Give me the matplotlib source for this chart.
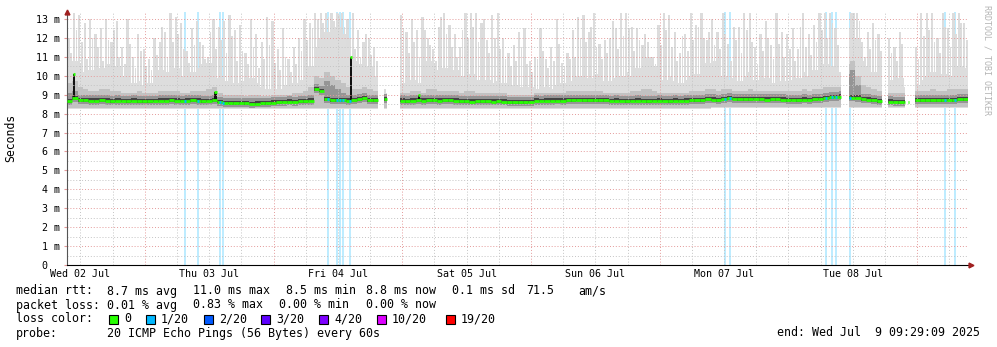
import numpy as np
import matplotlib
matplotlib.use('Agg')
import matplotlib.pyplot as plt
from matplotlib.patches import Rectangle
from datetime import datetime, timedelta

plt.rcParams['font.family'] = ['DejaVu Sans Mono']

W, H = 997, 347

end = datetime(2025, 7, 9, 9, 29, 9)
start = end - timedelta(days=7)
span = 168.0

nan = np.nan

# hourly median rtt (ms), hour 0 = start of graph
med = [
    8.65, 8.80, 8.72, 8.70, 8.68, 8.68, 8.70, 8.68, 8.66, 8.68, 8.67, 8.66, 8.68, 8.66, 8.65, 8.66, 8.67, 8.68, 8.68, 8.70, 8.68, 8.67, 8.68, 8.70,
    8.68, 8.66, 8.67, 8.72, 8.62, 8.57, 8.55, 8.56, 8.55, 8.54, 8.52, 8.53, 8.55, 8.56, 8.58, 8.60, 8.62, 8.63, 8.62, 8.65, 8.66, 8.68, 9.30, 9.20,
    8.75, 8.72, 8.70, 8.70, 8.68, 8.72, 8.75, 8.82, 8.72, 8.70, nan, 8.75, nan, nan, 8.68, 8.66, 8.68, 8.70, 8.68, 8.70, 8.70, 8.68, 8.70, 8.70,
    8.68, 8.65, 8.65, 8.64, 8.65, 8.66, 8.65, 8.64, 8.65, 8.64, 8.60, 8.60, 8.59, 8.60, 8.62, 8.68, 8.67, 8.68, 8.68, 8.69, 8.68, 8.72, 8.72, 8.73,
    8.72, 8.70, 8.72, 8.71, 8.70, 8.67, 8.68, 8.67, 8.66, 8.67, 8.68, 8.67, 8.66, 8.67, 8.68, 8.67, 8.66, 8.68, 8.67, 8.68, 8.72, 8.71, 8.72, 8.75,
    8.74, 8.72, 8.78, 8.80, 8.78, 8.76, 8.75, 8.76, 8.78, 8.75, 8.74, 8.75, 8.76, 8.74, 8.72, 8.73, 8.72, 8.74, 8.73, 8.75, 8.78, 8.80, 8.86, 8.88,
    8.90, 8.86, 8.85, 8.84, 8.76, 8.74, 8.72, 8.66, nan, 8.63, 8.62, 8.61, 8.62, nan, 8.70, 8.71, 8.72, 8.72, 8.71, 8.72, 8.73, 8.72, 8.75, 8.76,
]

# tallest ping of each hour
spike = [
    12.0, 13.3, 13.2, 12.8, 13.0, 12.2, 12.5, 13.0, 11.8, 12.9, 11.5, 13.0, 11.0, 12.2, 11.4, 10.9, 12.0, 11.8, 12.3, 13.3, 13.1, 12.8, 11.3, 12.5,
    12.9, 11.6, 11.0, 13.0, 12.6, 12.9, 13.2, 12.4, 12.7, 11.2, 13.0, 12.2, 11.8, 13.1, 12.9, 11.4, 12.5, 10.9, 11.5, 12.0, 13.0, 12.8, 13.3, 13.3,
    13.3, 13.3, 13.3, 13.3, 13.0, 13.3, 12.4, 11.8, 12.0, 11.5, nan, 9.3, nan, nan, 13.2, 12.3, 13.0, 12.4, 13.1, 12.0, 11.4, 12.6, 13.3, 12.7,
    12.2, 11.5, 13.3, 13.3, 13.3, 12.8, 11.9, 13.2, 13.3, 12.0, 11.2, 11.6, 12.3, 12.5, 10.8, 11.0, 12.5, 10.9, 11.5, 13.0, 10.7, 11.2, 12.4, 13.1,
    13.2, 12.3, 13.3, 11.7, 11.9, 12.0, 12.5, 13.3, 13.3, 12.6, 12.5, 11.6, 11.8, 11.0, 12.7, 13.3, 13.2, 12.3, 11.2, 12.2, 13.3, 12.7, 13.3, 11.9,
    13.0, 12.3, 13.3, 11.7, 12.6, 12.6, 13.3, 13.3, 11.5, 12.2, 12.9, 11.6, 13.3, 12.3, 12.2, 12.5, 11.4, 13.3, 12.2, 12.7, 13.3, 13.3, 13.3, 12.5,
    13.3, 13.3, 13.3, 13.3, 11.8, 12.3, 12.8, 12.2, nan, 12.0, 11.5, 12.3, 11.0, nan, 11.5, 13.3, 13.3, 13.3, 12.0, 13.3, 12.5, 13.3, 13.3, 12.8,
]

# second highest burst inside the hour
spike2 = [
    11.2, 12.4, 11.8, 10.9, 12.0, 11.5, 10.8, 11.9, 12.4, 11.0, 10.6, 11.7, 10.4, 11.3, 10.5, 10.3, 11.1, 12.6, 11.0, 11.8, 12.2, 11.4, 10.7, 11.6,
    11.8, 10.9, 12.3, 11.4, 11.9, 11.2, 12.1, 10.8, 11.3, 10.6, 11.5, 10.4, 10.9, 11.6, 10.7, 10.3, 11.0, 10.2, 10.6, 11.3, 11.9, 12.5, 13.0, 12.8,
    13.1, 12.9, 13.2, 12.6, 12.0, 11.4, 11.0, 12.2, 11.1, 10.8, nan, nan, nan, nan, 12.5, 11.2, 11.8, 11.0, 12.4, 11.6, 10.8, 13.1, 12.2, 11.5,
    11.0, 12.4, 12.0, 12.6, 11.8, 13.0, 11.2, 12.0, 11.4, 10.9, 10.5, 10.8, 11.5, 10.6, 10.2, 10.9, 11.3, 10.4, 10.8, 11.7, 10.5, 10.9, 11.0, 12.0,
    11.8, 12.6, 11.5, 10.9, 11.2, 12.9, 11.4, 12.1, 12.5, 11.3, 11.9, 12.2, 11.0, 10.6, 11.6, 12.4, 11.5, 10.8, 12.1, 11.3, 11.9, 12.6, 12.0, 12.3,
    11.6, 11.4, 12.2, 10.8, 11.9, 11.2, 12.4, 11.8, 10.6, 11.3, 12.0, 10.9, 11.7, 11.0, 11.4, 10.8, 12.6, 11.5, 11.1, 11.8, 12.4, 12.0, 12.8, 11.6,
    12.2, nan, 13.3, 12.9, 11.0, 11.4, 11.9, 11.3, nan, 11.2, 10.8, 11.7, nan, nan, 10.9, 12.1, 12.4, 11.8, 11.2, 12.6, 11.5, 12.2, 12.8, 11.9,
]

# upper edge of the bulk of the pings
smoke_top = [
    10.5, 10.8, 10.6, 10.2, 10.3, 10.0, 10.4, 10.6, 10.8, 10.5, 10.0, 9.8, 9.6, 9.7, 9.5, 9.6, 9.8, 10.3, 10.2, 10.5, 10.4, 10.0, 9.8, 10.2,
    10.4, 10.6, 10.7, 10.2, 9.9, 9.7, 9.8, 9.6, 9.7, 9.5, 9.9, 9.6, 9.4, 9.3, 9.4, 9.3, 9.5, 9.4, 9.6, 9.8, 10.0, 10.5, 11.5, 12.0,
    12.3, 12.5, 12.6, 12.2, 11.5, 10.8, 10.6, 10.4, 10.5, 10.0, nan, 9.1, nan, nan, 9.6, 9.5, 9.8, 9.6, 9.7, 10.8, 10.6, 10.3, 10.4, 10.2,
    10.3, 10.0, 9.9, 10.1, 9.8, 9.7, 9.8, 9.6, 9.7, 9.6, 9.4, 9.5, 9.4, 9.3, 9.4, 9.3, 9.5, 9.4, 9.3, 9.5, 9.6, 9.8, 9.7, 10.0,
    9.8, 9.9, 10.1, 9.8, 9.7, 9.7, 9.9, 10.0, 10.2, 10.0, 10.4, 10.9, 11.0, 10.5, 9.9, 9.8, 10.0, 9.7, 9.6, 9.8, 10.0, 10.1, 10.5, 10.7,
    10.8, 10.3, 10.0, 9.8, 9.9, 9.7, 10.0, 10.2, 9.8, 9.7, 9.9, 9.6, 9.8, 9.7, 9.7, 9.8, 9.9, 10.2, 10.0, 10.3, 10.4, 10.6, 10.5, 10.4,
    10.2, 12.5, 12.8, 12.0, 10.8, 10.5, 10.2, 10.0, nan, 9.8, 9.6, 9.9, 9.4, nan, 9.5, 9.8, 10.0, 10.2, 9.9, 10.1, 10.0, 10.3, 10.5, 10.4,
]

# upper edge of the dense grey part
dark_top = [
    9.6, 9.7, 9.4, 9.3, 9.2, 9.2, 9.3, 9.3, 9.2, 9.2, 9.1, 9.1, 9.1, 9.2, 9.1, 9.1, 9.1, 9.2, 9.2, 9.2, 9.2, 9.1, 9.1, 9.2,
    9.2, 9.2, 9.3, 9.4, 9.1, 9.0, 9.0, 9.0, 9.0, 8.95, 9.0, 9.0, 8.95, 8.95, 9.0, 9.0, 9.0, 9.0, 9.1, 9.1, 9.2, 9.4, 10.0, 9.9,
    10.2, 10.0, 9.8, 9.6, 9.4, 9.3, 9.3, 9.4, 9.3, 9.2, nan, 9.0, nan, nan, 9.1, 9.1, 9.2, 9.2, 9.1, 9.3, 9.3, 9.2, 9.2, 9.2,
    9.2, 9.1, 9.2, 9.2, 9.1, 9.1, 9.1, 9.1, 9.1, 9.1, 9.0, 9.0, 9.0, 9.0, 9.0, 9.1, 9.1, 9.1, 9.1, 9.1, 9.1, 9.2, 9.2, 9.2,
    9.2, 9.2, 9.2, 9.2, 9.1, 9.1, 9.1, 9.1, 9.1, 9.2, 9.2, 9.3, 9.3, 9.2, 9.1, 9.1, 9.1, 9.1, 9.1, 9.1, 9.2, 9.2, 9.2, 9.3,
    9.3, 9.2, 9.3, 9.3, 9.2, 9.2, 9.2, 9.3, 9.2, 9.2, 9.2, 9.2, 9.2, 9.2, 9.2, 9.2, 9.2, 9.3, 9.2, 9.3, 9.3, 9.4, 9.4, 9.4,
    9.4, 10.6, 10.8, 10.0, 9.5, 9.4, 9.3, 9.2, nan, 9.1, 9.1, 9.1, 9.1, nan, 9.2, 9.2, 9.2, 9.3, 9.2, 9.2, 9.3, 9.3, 9.3, 9.3,
]

# fastest ping, one value per 24h block
low_by_day = [8.30, 8.30, 8.30, 8.30, 8.32, 8.35, 8.35]

# short median excursions (hour, ms)
peak_t = [1.3, 27.7, 52.95, 65.6]
peak_v = [10.1, 9.15, 11.0, 9.0]

# stretches with data (hours)
segments = [(0.0, 57.9), (59.05, 59.6), (62.1, 144.3), (145.9, 152.0),
            (153.1, 156.3), (156.9, 157.3), (158.2, 168.0)]

# packet loss events (hour, lost pings out of 20)
loss_t = [22.0, 24.43, 28.53, 29.09, 48.67, 50.34, 50.9, 51.46, 52.77,
          122.69, 123.63, 141.53, 142.64, 143.39, 146.0, 163.71, 165.58]
loss_n = [1] * len(loss_t)

loss_steps = [0, 1, 2, 3, 4, 10, 19]
loss_labels = ['0', '1/20', '2/20', '3/20', '4/20', '10/20', '19/20']
loss_colors = ['#26ff00', '#00b8ff', '#0059ff', '#5e00ff', '#7e00ff', '#dd00ff', '#ff0000']

med = np.array(med)
spike = np.array(spike)
spike2 = np.array(spike2)
smoke_top = np.array(smoke_top)
dark_top = np.array(dark_top)
low = np.repeat(low_by_day, 24)


def inside(t):
    return any(s <= t < e for s, e in segments)


def steps(vals, s, e):
    cuts = [s] + [float(k) for k in range(int(s) + 1, int(np.ceil(e)))] + [e]
    ys = [vals[int(c)] for c in cuts[:-1]]
    return np.array(cuts), np.array(ys + ys[-1:])


def loss_color(n):
    idx = max(i for i, v in enumerate(loss_steps) if v <= n)
    return loss_colors[idx]


fig = plt.figure(figsize=(W / 100, H / 100), dpi=100)
ax = fig.add_axes([67 / W, (H - 265) / H, 901 / W, (265 - 12) / H])
ytop = 13.37
ax.set_xlim(0, span)
ax.set_ylim(0, ytop)

# loss bars behind everything
for t, n in zip(loss_t, loss_n):
    ax.vlines(t, 0, ytop, color=loss_color(n), alpha=0.33, lw=1.1, zorder=0.8)

# smoke
for hr in range(168):
    for t, arr, w in ((hr + 0.3, spike, 0.42), (hr + 0.75, spike2, 0.32)):
        if inside(t) and not np.isnan(arr[hr]):
            ax.bar(t, arr[hr] - low[hr], bottom=low[hr], width=w,
                   color='#dcdcdc', lw=0, zorder=1)

for s, e in segments:
    x, top = steps(smoke_top, s, e)
    _, dk = steps(dark_top, s, e)
    _, md = steps(med, s, e)
    _, lo = steps(low, s, e)
    ax.fill_between(x, lo - 0.05, top, step='post', color='#dddddd', lw=0, zorder=1)
    ax.fill_between(x, lo, dk, step='post', color='#c2c2c2', lw=0, zorder=1.1)
    ax.fill_between(x, md - 0.2, np.maximum(md + 0.28, dk - 0.5), step='post',
                    color='#959595', lw=0, zorder=1.2)
    ax.fill_between(x, md - 0.08, md + 0.12, step='post', color='#444444', lw=0, zorder=1.3)
    ax.hlines(md[:-1], x[:-1], x[1:], color=loss_colors[0], lw=2.0, zorder=4)

for t, v in zip(peak_t, peak_v):
    base = med[int(t)]
    ax.bar(t, v - base, bottom=base, width=0.4, color='#111111', lw=0, zorder=1.4)
    ax.hlines(v, t - 0.22, t + 0.22, color=loss_colors[0], lw=2.0, zorder=4)

for t, n in zip(loss_t, loss_n):
    ax.hlines(med[int(t)], t - 0.25, t + 0.25, color=loss_color(n), lw=2.0, zorder=5)

# grid
dots = (0, (1, 2))
for y in np.arange(0.5, 13.4, 1.0):
    ax.axhline(y, color='#c4c4c4', ls=dots, lw=0.7, zorder=2.5)
for y in range(1, 14):
    ax.axhline(y, color='#e49a9a', ls=dots, lw=0.7, zorder=2.5)

first_midnight = (datetime(2025, 7, 3) - start).total_seconds() / 3600
quarters = np.arange(first_midnight - 12, span, 6.0)
for q in quarters:
    if q <= 0:
        continue
    is_day = abs((q - first_midnight) % 24) < 1e-6
    ax.axvline(q, color='#e49a9a' if is_day else '#c4c4c4', ls=dots, lw=0.7, zorder=2.5)

noons = [first_midnight - 12 + 24 * k for k in range(7)]
day_names = [(start + timedelta(hours=n)).strftime('%a %d %b') for n in noons]
ax.set_xticks(noons, day_names)
ax.tick_params(axis='x', length=0, pad=3, labelsize=7.2)

ax.set_yticks(range(14), ['0  '] + [f'{k} m' for k in range(1, 14)])
ax.tick_params(axis='y', length=2.2, pad=2.9, labelsize=7.2, color='#e49a9a')

for side in ('top', 'right'):
    ax.spines[side].set_visible(False)
ax.spines['left'].set_color('#555555')
ax.spines['bottom'].set_color('#000000')
ax.spines['left'].set_linewidth(0.8)
ax.spines['bottom'].set_linewidth(0.8)

ax.plot([0], [ytop], marker='^', ms=3.5, color='#a02020', clip_on=False, zorder=6)
ax.plot([span + 0.6], [0], marker='>', ms=3.5, color='#a02020', clip_on=False, zorder=6)

fig.text(11 / W, 1 - 138 / H, 'Seconds', rotation=90, size=8.3, ha='center', va='center')
fig.text(987 / W, 1 - 60 / H, 'RRDTOOL / TOBI OETIKER', rotation=270, size=6,
         color='#b4b4b4', ha='center', va='center')


def put(x, y, s, **kw):
    fig.text(x / W, 1 - y / H, s, size=8.4, va='center', **kw)


put(16, 291, 'median rtt:')
for x, s in [(107, '8.7 ms avg'), (193, '11.0 ms max'), (286, '8.5 ms min'),
             (366, '8.8 ms now'), (452, '0.1 ms sd'), (526, '71.5'), (578, 'am/s')]:
    put(x, 291, s)

put(16, 305, 'packet loss:')
for x, s in [(107, '0.01 % avg'), (193, '0.83 % max'), (279, '0.00 % min'), (366, '0.00 % now')]:
    put(x, 305, s)

put(16, 319, 'loss color:')
box_x = [109, 146, 204, 261, 319, 377, 446]
for bx, c, lab in zip(box_x, loss_colors, loss_labels):
    fig.add_artist(Rectangle((bx / W, 1 - 324 / H), 9 / W, 9 / H, transform=fig.transFigure,
                             facecolor=c, edgecolor='black', lw=0.8))
    put(bx + 15, 319, lab)

put(16, 333, 'probe:')
put(107, 333, '20 ICMP Echo Pings (56 Bytes) every 60s')
put(980, 333, 'end: ' + end.strftime('%a %b ') + f'{end.day:2d} ' + end.strftime('%H:%M:%S %Y'), ha='right')

fig.savefig('out.png', dpi=100)
